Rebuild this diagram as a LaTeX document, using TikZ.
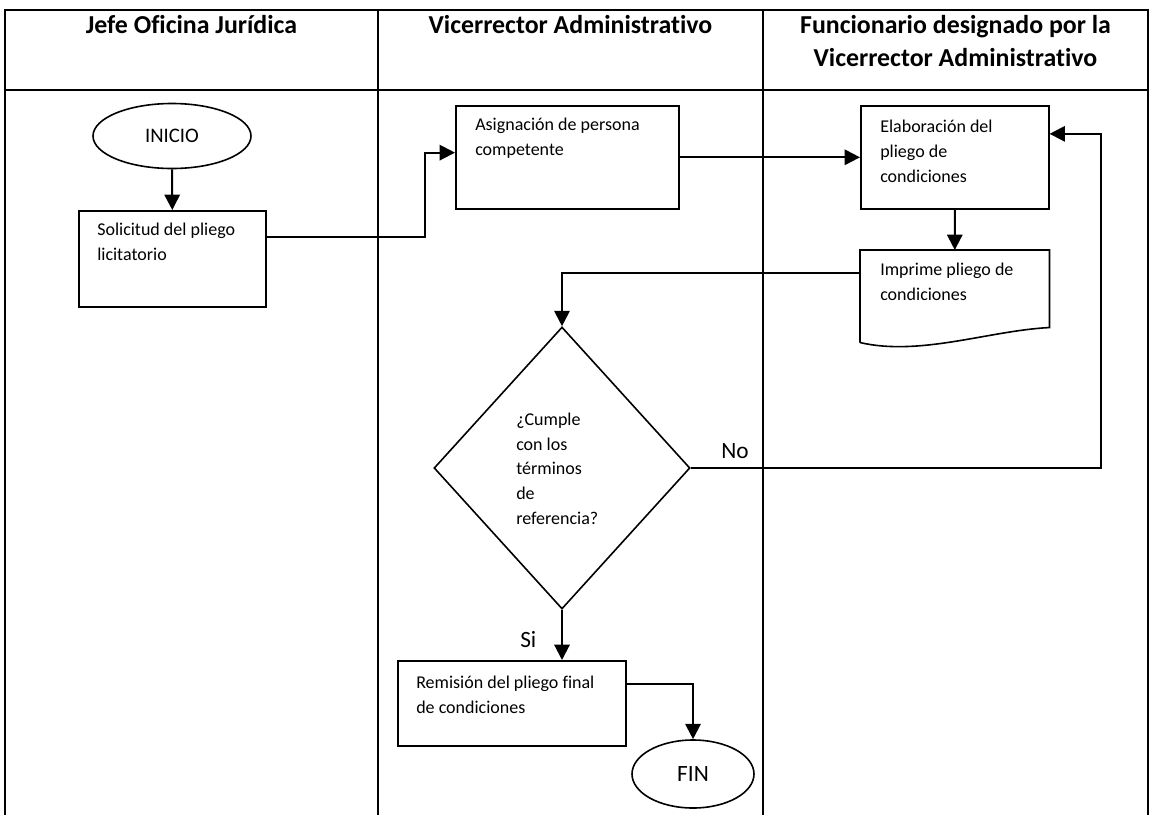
\documentclass[tikz,border=0pt]{standalone}
\usepackage{fontspec}
\setmainfont{Carlito}[Ligatures=NoCommon, RawFeature=-calt]
\usetikzlibrary{arrows.meta,shapes.geometric,calc}

\begin{document}
\begin{tikzpicture}[x=0.75pt,y=-0.75pt,
  lane/.style={line width=2pt},
  head/.style={font=\fontsize{19.4}{24.75}\selectfont\bfseries, inner sep=0pt, anchor=base, align=center},
  txt/.style={font=\fontsize{13.5}{18.4}\selectfont, inner sep=0pt, anchor=base west, align=left},
  lbl/.style={font=\fontsize{17.5}{21}\selectfont, inner sep=0pt, anchor=base west},
  stepbox/.style={draw, line width=1.2pt, anchor=north west, inner sep=0pt},
  terminal/.style={draw, ellipse, line width=1.2pt, inner sep=0pt},
  flow/.style={line width=1.5pt, -{Triangle[width=11.5pt,length=11.5pt]}}]

\useasboundingbox (0,0) rectangle (1153,815);

% swimlane table
\draw[lane] (5,815) -- (5,10) -- (1148,10) -- (1148,815);
\draw[lane] (5,90) -- (1148,90);
\draw[lane] (378,10) -- (378,815);
\draw[lane] (763,10) -- (763,815);

% lane titles (a multi-line node sits on the baseline of its last line)
\node[head] (h1) at (191.5,33) {Jefe Oficina Jurídica};
\node[head] (h2) at (570.5,33) {Vicerrector Administrativo};
\node[head] (h3) at (955.5,66) {Funcionario designado por la\\Vicerrector Administrativo};

% terminals
\node[terminal, minimum width=118.5pt, minimum height=48.75pt,
      font=\fontsize{15.5}{18}\selectfont] (inicio) at (172,136) {INICIO};
\node[terminal, minimum width=91.5pt, minimum height=51pt,
      font=\fontsize{17.5}{21}\selectfont] (fin) at (693,774) {FIN};

% process boxes
\node[stepbox, minimum width=140.25pt, minimum height=72pt] (solicitud) at (78,210) {};
\node[txt] (solicitud-t) at (97,260.5) {Solicitud del pliego\\licitatorio};

\node[stepbox, minimum width=167.25pt, minimum height=77.25pt] (asignacion) at (455,105) {};
\node[txt] (asignacion-t) at (475,155.5) {Asignación de persona\\competente};

\node[stepbox, minimum width=141pt, minimum height=77.25pt] (elaboracion) at (860,105) {};
\node[txt] (elaboracion-t) at (880,182) {Elaboración del\\pliego de\\condiciones};

\node[stepbox, minimum width=171pt, minimum height=63.75pt] (remision) at (397,660) {};
\node[txt] (remision-t) at (416,713.5) {Remisión del pliego final\\de condiciones};

% document shape with wavy lower edge
\node[anchor=north west, inner sep=0pt, minimum width=141.75pt, minimum height=57.75pt] (imprime) at (860,250) {};
\draw[line width=1.2pt]
  ($(imprime.south west)+(0,15)$) -- (imprime.north west) -- (imprime.north east) -- (imprime.south east)
  .. controls ($(imprime.south east)+(-60,3)$) and ($(imprime.south west)+(60,29)$) .. ($(imprime.south west)+(0,15)$);
\node[txt] (imprime-t) at (880,300.5) {Imprime pliego de\\condiciones};

% decision
\node[draw, diamond, line width=1.2pt, inner sep=0pt, minimum width=192pt, minimum height=211.5pt] (decision) at (562,468) {};
\node[txt] (decision-t) at (516,524) {¿Cumple\\con los\\términos\\de\\referencia?};

% connectors
\draw[flow] (inicio.south) -- (solicitud.north);
\draw[flow] ([yshift=-20.25pt]solicitud.north east) -- ++(158,0) |- ([yshift=3.5pt]asignacion.west);
\draw[flow] (asignacion.east) -- (elaboracion.west);
\draw[flow] (elaboracion.south) -- (imprime.north);
\draw[flow] ([yshift=11.5pt]imprime.west) -| (decision.north);
\draw[flow] (decision.east) -- ++(410,0) |- ([yshift=17.6pt]elaboracion.east);
\draw[flow] (decision.south) -- (decision.south |- remision.north);
\draw[flow] ([yshift=14.6pt]remision.east) -| (fin.north);

\node[lbl] (no) at (721,458) {No};
\node[lbl] (si) at (520,647) {Si};
\end{tikzpicture}
\end{document}
